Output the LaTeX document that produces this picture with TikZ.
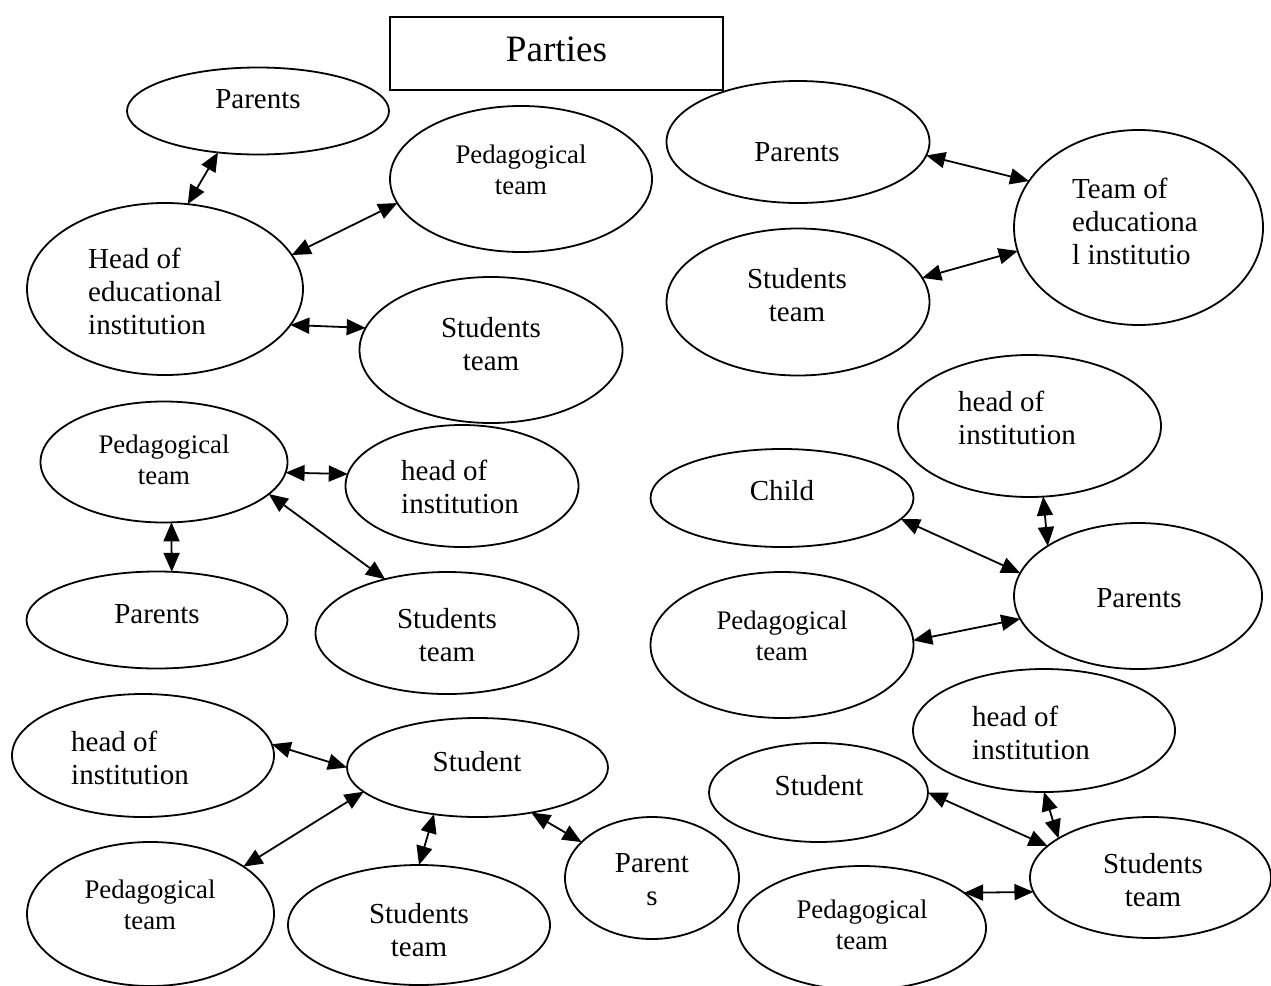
\documentclass[tikz,border=0pt]{standalone}
\usepackage{fontspec}
\setmainfont{Liberation Serif}
\usetikzlibrary{shapes.geometric,arrows.meta}

\tikzset{
  ell/.style={draw, ellipse, line width=1.8pt, inner sep=0pt, outer sep=0pt},
  lbl/.style={font=\fontsize{29}{33}\selectfont, align=center, inner sep=0pt},
  lbls/.style={font=\fontsize{26.8}{30.5}\selectfont, align=center, inner sep=0pt},
  titlebox/.style={draw, line width=1.5pt, minimum width=333pt, minimum height=73pt,
    text depth=9pt, font=\fontsize{37.2}{42}\selectfont},
  both/.style={{Triangle[length=19pt,width=16pt]}-{Triangle[length=19pt,width=16pt]}, line width=1.8pt}
}

\begin{document}
\begin{tikzpicture}[x=1pt,y=-1pt]
    \useasboundingbox (0,0) rectangle (1271,985);

    % Title
    \node[titlebox] (parties) at (556.5,53.5) {Parties};

    % Head of educational institution and partners
    \node[ell, minimum width=262pt, minimum height=87pt] (par1) at (258,111) {};
    \node[lbl] (par1-t) at (258,99) {Parents};
    \node[ell, minimum width=262pt, minimum height=146pt] (ped1) at (521,179) {};
    \node[lbls] (ped1-t) at (521,170) {Pedagogical\\team};
    \node[ell, minimum width=276pt, minimum height=172pt] (head1) at (165,289) {};
    \node[lbl, anchor=west, align=left] (head1-t) at (88,291) {Head of\\educational\\institution};
    \node[ell, minimum width=263pt, minimum height=146pt] (stu1) at (491,350) {};
    \node[lbl] (stu1-t) at (491,344) {Students\\team};

    \draw[both] (head1.75) -- (par1.226);
    \draw[both] (head1.15) -- (ped1.191);
    \draw[both] (head1.344) -- (stu1.170);

    % Team of educational institution
    \node[ell, minimum width=263pt, minimum height=122pt] (par2) at (798,142) {};
    \node[lbl] (par2-t) at (797,152) {Parents};
    \node[ell, minimum width=263pt, minimum height=147pt] (stu2) at (798,302) {};
    \node[lbl] (stu2-t) at (797,295) {Students\\team};
    \node[ell, minimum width=249pt, minimum height=195pt] (team2) at (1138.5,227.5) {};
    \node[lbl, anchor=west, align=left] (team2-t) at (1072,221) {Team of\\educationa\\l institutio};

    \draw[both] (par2.354) -- (team2.157);
    \draw[both] (stu2.11) -- (team2.191);

    % Pedagogical team
    \node[ell, minimum width=247pt, minimum height=121pt] (ped3) at (164,462) {};
    \node[lbls] (ped3-t) at (164,460) {Pedagogical\\team};
    \node[ell, minimum width=233pt, minimum height=122pt] (head3) at (462,486) {};
    \node[lbl, anchor=west, align=left] (head3-t) at (401,487) {head of\\institution};
    \node[ell, minimum width=261pt, minimum height=97pt] (par3) at (157,620) {};
    \node[lbl] (par3-t) at (157,614) {Parents};
    \node[ell, minimum width=263pt, minimum height=122pt] (stu3) at (447,633) {};
    \node[lbl] (stu3-t) at (447,635) {Students\\team};

    \draw[both] (ped3.355) -- (head3.174);
    \draw[both] (ped3.277) -- (par3.73);
    \draw[both] (ped3.343) -- (stu3.139);

    % Parents
    \node[ell, minimum width=263pt, minimum height=142pt] (head4) at (1029.5,426) {};
    \node[lbl, anchor=west, align=left] (head4-t) at (958,418) {head of\\institution};
    \node[ell, minimum width=263pt, minimum height=98pt] (child4) at (782,498) {};
    \node[lbl] (child4-t) at (782,491) {Child};
    \node[ell, minimum width=248pt, minimum height=146pt] (par4) at (1138,596) {};
    \node[lbl] (par4-t) at (1139,598) {Parents};
    \node[ell, minimum width=263pt, minimum height=146pt] (ped4) at (782,645) {};
    \node[lbls] (ped4-t) at (782,636) {Pedagogical\\team};

    \draw[both] (head4.281) -- (par4.151);
    \draw[both] (child4.350) -- (par4.169);
    \draw[both] (ped4.2) -- (par4.191);

    % Student
    \node[ell, minimum width=262pt, minimum height=123pt] (head5) at (143,755.5) {};
    \node[lbl, anchor=west, align=left] (head5-t) at (71,758) {head of\\institution};
    \node[ell, minimum width=261pt, minimum height=99pt] (stud5) at (477.5,767.5) {};
    \node[lbl] (stud5-t) at (477,762) {Student};
    \node[ell, minimum width=247pt, minimum height=144pt] (ped5) at (150.5,914) {};
    \node[lbls] (ped5-t) at (150,905) {Pedagogical\\team};
    \node[ell, minimum width=262pt, minimum height=120pt] (stu5) at (419,925) {};
    \node[lbl] (stu5-t) at (419,930) {Students\\team};
    \node[ell, minimum width=174pt, minimum height=122pt] (par5) at (652,878) {};
    \node[lbl] (par5-t) at (652,880) {Parent\\s};

    \draw[both] (head5.5) -- (stud5.180);
    \draw[both] (stud5.192) -- (ped5.27);
    \draw[both] (stud5.227) -- (stu5.90);
    \draw[both] (stud5.320) -- (par5.153);

    % Students team
    \node[ell, minimum width=262pt, minimum height=123pt] (head6) at (1044,730.5) {};
    \node[lbl, anchor=west, align=left] (head6-t) at (972,733) {head of\\institution};
    \node[ell, minimum width=219pt, minimum height=99pt] (stud6) at (818.5,792.5) {};
    \node[lbl] (stud6-t) at (819,786) {Student};
    \node[ell, minimum width=241pt, minimum height=121pt] (stu6) at (1150.5,877.5) {};
    \node[lbl] (stu6-t) at (1153,880) {Students\\team};
    \node[ell, minimum width=248pt, minimum height=124pt] (ped6) at (862,928) {};
    \node[lbls] (ped6-t) at (862,925) {Pedagogical\\team};

    \draw[both] (stud6.0) -- (stu6.163);
    \draw[both] (head6.270) -- (stu6.157);
    \draw[both] (ped6.19) -- (stu6.187);

\end{tikzpicture}
\end{document}
